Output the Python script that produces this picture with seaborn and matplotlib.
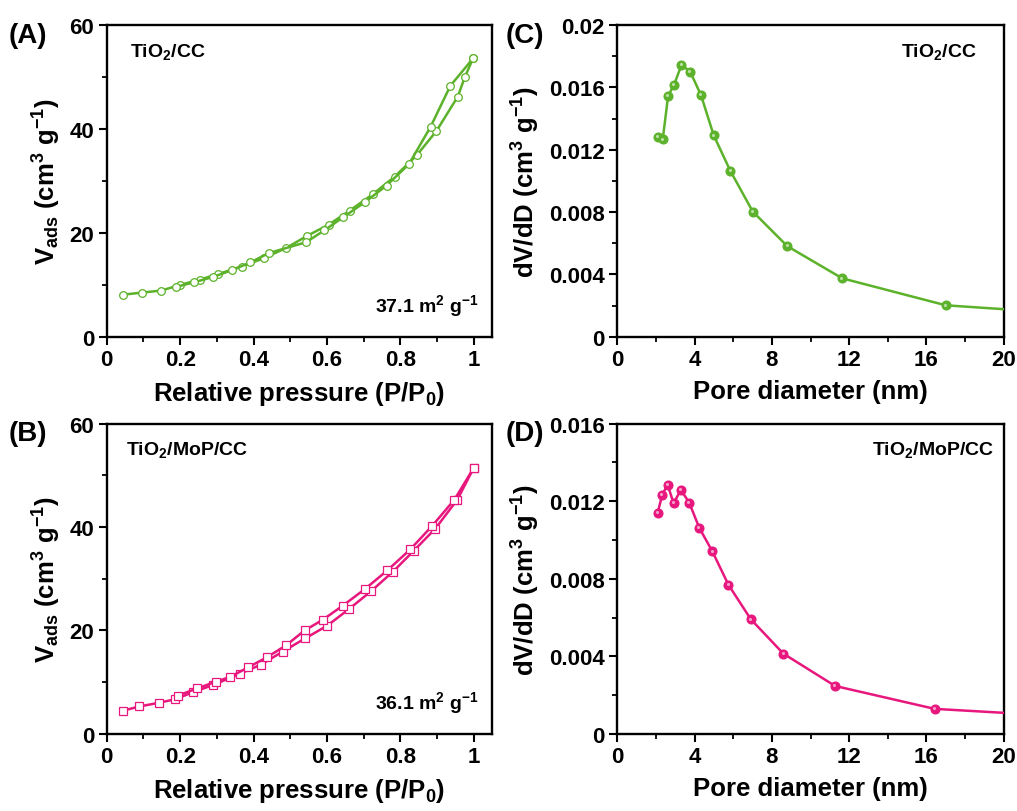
import numpy as np
import pandas as pd
import matplotlib
matplotlib.use('Agg')
import matplotlib.pyplot as plt
import seaborn as sns
from matplotlib.ticker import MultipleLocator

# -----------------------------
# Data
# -----------------------------

# (A) TiO2/CC isotherm
a_ads_p = [0.044, 0.095, 0.149, 0.200, 0.253, 0.304, 0.367, 0.427, 0.489, 0.545,
           0.605, 0.662, 0.724, 0.784, 0.844, 0.898, 0.956, 0.975, 0.998]
a_ads_v = [8.1, 8.5, 8.9, 10.0, 11.0, 12.1, 13.5, 15.1, 17.1, 19.4,
           21.6, 24.3, 27.4, 30.8, 34.9, 39.6, 46.2, 49.9, 53.6]
a_des_p = [0.998, 0.936, 0.882, 0.823, 0.762, 0.703, 0.644, 0.593, 0.543,
           0.441, 0.391, 0.340, 0.289, 0.238, 0.189]
a_des_v = [53.6, 48.3, 40.4, 33.2, 29.1, 25.9, 23.0, 20.5, 18.2,
           16.1, 14.3, 12.8, 11.5, 10.5, 9.6]

# (B) TiO2/MoP/CC isotherm
b_ads_p = [0.045, 0.089, 0.141, 0.187, 0.236, 0.288, 0.362, 0.420, 0.479, 0.541,
           0.600, 0.659, 0.720, 0.780, 0.836, 0.895, 0.955, 1.000]
b_ads_v = [4.5, 5.3, 6.0, 6.7, 8.1, 9.4, 11.6, 13.4, 15.9, 18.5,
           20.9, 24.1, 27.6, 31.4, 35.4, 39.7, 45.3, 51.5]
b_des_p = [1.000, 0.947, 0.886, 0.827, 0.764, 0.703, 0.643, 0.589, 0.539,
           0.488, 0.436, 0.386, 0.336, 0.297, 0.247, 0.193]
b_des_v = [51.5, 45.3, 40.2, 35.7, 31.6, 28.0, 24.8, 22.1, 20.0,
           17.1, 14.8, 12.9, 11.0, 10.1, 8.8, 7.4]

# (C) TiO2/CC pore size distribution
c_d = [2.08, 2.35, 2.63, 2.94, 3.32, 3.77, 4.33, 4.99, 5.85, 7.01, 8.80, 11.64, 17.0, 20.6]
c_dv = [0.01281, 0.01266, 0.01546, 0.01617, 0.01744, 0.01701, 0.01550, 0.01292,
        0.01064, 0.00803, 0.00581, 0.00375, 0.00202, 0.00172]

# (D) TiO2/MoP/CC pore size distribution
d_d = [2.08, 2.32, 2.60, 2.91, 3.29, 3.72, 4.24, 4.92, 5.75, 6.91, 8.59, 11.27, 16.42, 20.6]
d_dv = [0.01138, 0.01231, 0.01286, 0.01190, 0.01258, 0.01193, 0.01063, 0.00941,
        0.00769, 0.00591, 0.00414, 0.00247, 0.00129, 0.00105]

green = '#5cb22a'
pink = '#e8177d'

# -----------------------------
# Style
# -----------------------------

sns.set_style('ticks')
plt.rcParams['font.family'] = ['Liberation Sans', 'DejaVu Sans']
plt.rcParams['font.weight'] = 'bold'
plt.rcParams['axes.labelweight'] = 'bold'
plt.rcParams['text.color'] = 'black'
plt.rcParams['axes.labelcolor'] = 'black'
plt.rcParams['xtick.color'] = 'black'
plt.rcParams['ytick.color'] = 'black'
plt.rcParams['mathtext.fontset'] = 'custom'
plt.rcParams['mathtext.rm'] = 'Liberation Sans:bold'
plt.rcParams['mathtext.bf'] = 'Liberation Sans:bold'
plt.rcParams['mathtext.default'] = 'bf'

fig = plt.figure(figsize=(10.17, 8.12), dpi=100)

axA = fig.add_axes([0.105, 0.584, 0.379, 0.384])
axC = fig.add_axes([0.607, 0.584, 0.380, 0.384])
axB = fig.add_axes([0.105, 0.095, 0.379, 0.382])
axD = fig.add_axes([0.607, 0.095, 0.380, 0.382])


def style_axes(ax):
    for sp in ax.spines.values():
        sp.set_linewidth(1.7)
        sp.set_color('black')
    ax.tick_params(which='major', direction='out', length=6, width=1.5,
                   labelsize=16, pad=3)
    ax.tick_params(which='minor', direction='out', length=3.5, width=1.3)
    for lab in ax.get_xticklabels() + ax.get_yticklabels():
        lab.set_fontweight('bold')


def iso_plot(ax, ads_p, ads_v, des_p, des_v, color, marker, ms):
    ads = pd.DataFrame({'p': ads_p, 'v': ads_v})
    des = pd.DataFrame({'p': des_p, 'v': des_v})
    for df in (ads, des):
        sns.lineplot(data=df, x='p', y='v', ax=ax, sort=False, color=color,
                     lw=1.8, marker=marker, markersize=ms,
                     markerfacecolor='white', markeredgecolor=color,
                     markeredgewidth=0.9, clip_on=False, zorder=3)
    ax.set_xlim(0, 1.05)
    ax.set_ylim(0, 60)
    ax.xaxis.set_minor_locator(MultipleLocator(0.1))
    ax.yaxis.set_major_locator(MultipleLocator(20))
    ax.yaxis.set_minor_locator(MultipleLocator(10))
    ax.set_xticks([0, 0.2, 0.4, 0.6, 0.8, 1.0])
    ax.set_xticklabels(['0', '0.2', '0.4', '0.6', '0.8', '1'])
    ax.set_xlabel(r'Relative pressure (P/P$_0$)', fontsize=18.5, labelpad=6)
    ax.set_ylabel(r'V$_{\rm ads}$ (cm$^3$ g$^{-1}$)', fontsize=18.5, labelpad=5)
    style_axes(ax)


def psd_plot(ax, d, dv, color, ymax):
    df = pd.DataFrame({'d': d, 'dv': dv})
    sns.lineplot(data=df, x='d', y='dv', ax=ax, sort=False, color=color,
                 lw=1.8, marker='o', markersize=6.5,
                 markerfacecolor=color, markeredgecolor=color, zorder=3)
    # small highlight to mimic the shaded spheres
    ax.scatter(df['d'][:-1] - 0.04, np.array(df['dv'][:-1]) + ymax * 0.0025,
               s=5, color='white', alpha=0.6, zorder=4, linewidths=0)
    ax.set_xlim(0, 20)
    ax.set_ylim(0, ymax)
    ax.xaxis.set_major_locator(MultipleLocator(4))
    ax.xaxis.set_minor_locator(MultipleLocator(2))
    ax.yaxis.set_minor_locator(MultipleLocator(0.002))
    yt = np.arange(0, ymax + 1e-9, 0.004)
    ax.set_yticks(yt)
    ax.set_yticklabels(['0'] + ['%g' % round(v, 3) for v in yt[1:]])
    ax.set_xlabel('Pore diameter (nm)', fontsize=18.5, labelpad=6)
    ax.set_ylabel(r'dV/dD (cm$^3$ g$^{-1}$)', fontsize=18.5, labelpad=5)
    style_axes(ax)


iso_plot(axA, a_ads_p, a_ads_v, a_des_p, a_des_v, green, 'o', 5.5)
iso_plot(axB, b_ads_p, b_ads_v, b_des_p, b_des_v, pink, 's', 5.5)
psd_plot(axC, c_d, c_dv, green, 0.02)
psd_plot(axD, d_d, d_dv, pink, 0.016)

# -----------------------------
# Annotations
# -----------------------------

axA.text(0.06, 0.95, r'TiO$_2$/CC', transform=axA.transAxes, fontsize=14,
         fontweight='bold', va='top')
axA.text(0.965, 0.06, r'37.1 m$^2$ g$^{-1}$', transform=axA.transAxes,
         fontsize=14, fontweight='bold', ha='right', va='bottom')
axB.text(0.05, 0.95, r'TiO$_2$/MoP/CC', transform=axB.transAxes, fontsize=14,
         fontweight='bold', va='top')
axB.text(0.965, 0.06, r'36.1 m$^2$ g$^{-1}$', transform=axB.transAxes,
         fontsize=14, fontweight='bold', ha='right', va='bottom')
axC.text(0.93, 0.95, r'TiO$_2$/CC', transform=axC.transAxes, fontsize=14,
         fontweight='bold', va='top', ha='right')
axD.text(0.975, 0.95, r'TiO$_2$/MoP/CC', transform=axD.transAxes, fontsize=14,
         fontweight='bold', va='top', ha='right')

for lab, x, y in [('(A)', 0.008, 0.972), ('(B)', 0.008, 0.482),
                  ('(C)', 0.497, 0.972), ('(D)', 0.497, 0.482)]:
    fig.text(x, y, lab, fontsize=20, fontweight='bold', va='top')

fig.savefig('out.png', dpi=100)
